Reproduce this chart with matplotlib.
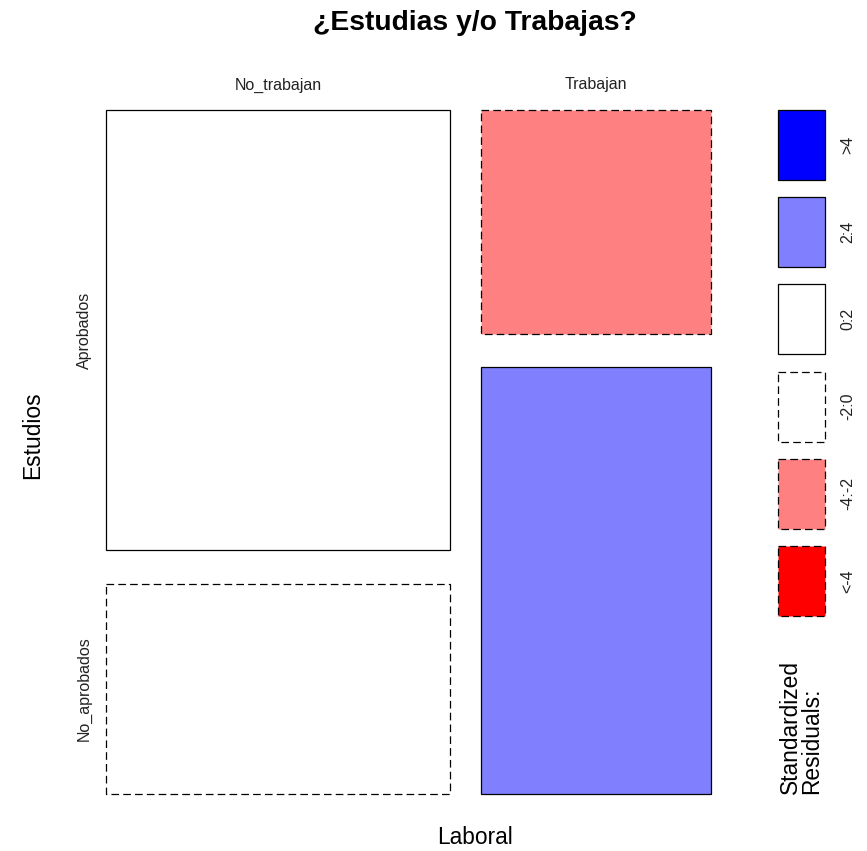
import numpy as np
import matplotlib.pyplot as plt
from matplotlib.patches import Rectangle

plt.rcParams['font.family'] = ['Liberation Sans', 'DejaVu Sans']
plt.rcParams['lines.scale_dashes'] = False

# tabla de contingencia Laboral x Estudios
laboral = ['No_trabajan', 'Trabajan']
estudios = ['Aprobados', 'No_aprobados']
conteos = np.array([[65, 31],    # No_trabajan
                    [22, 42]])   # Trabajan

# residuos estandarizados (Pearson) para el sombreado
n = conteos.sum()
esperados = np.outer(conteos.sum(axis=1), conteos.sum(axis=0)) / n
residuos = (conteos - esperados) / np.sqrt(esperados)

cortes = [-4, -2, 0, 2, 4]
colores = ['#FF0000', '#FF8080', 'white', 'white', '#8080FF', '#0000FF']
etiquetas = ['<-4', '-4:-2', '-2:0', '0:2', '2:4', '>4']


def estilo(r):
    k = np.searchsorted(cortes, r)
    ls = (0, (5.5, 3)) if r < 0 else '-'
    return colores[k], ls


fig = plt.figure(figsize=(8.67, 8.51), dpi=100)
ax = fig.add_axes([0, 0, 1, 1])
ax.set_xlim(0, 867)
ax.set_ylim(851, 0)
ax.axis('off')

# zona del mosaico en pixeles
x0, x1, y0, y1 = 106, 711, 110, 794
gap_x, gap_y = 31, 33.5
ancho_total = x1 - x0 - gap_x * (len(laboral) - 1)
alto_total = y1 - y0 - gap_y * (len(estudios) - 1)

col_frac = conteos.sum(axis=1) / n
x = x0
for i, lab in enumerate(laboral):
    w = ancho_total * col_frac[i]
    ax.text(x + w / 2, 85, lab, ha='center', va='center', fontsize=11.5, color='#222222')
    fil_frac = conteos[i] / conteos[i].sum()
    y = y0
    for j, est in enumerate(estudios):
        h = alto_total * fil_frac[j]
        fc, ls = estilo(residuos[i, j])
        ax.add_patch(Rectangle((x, y), w, h, facecolor=fc, edgecolor='black',
                               linewidth=0.9, linestyle=ls))
        if i == 0:
            ax.text(84, y + h / 2, est, rotation=90, ha='center', va='center',
                    fontsize=11.5, color='#222222')
        y += h + gap_y
    x += w + gap_x

# leyenda de residuos
lx0, lx1 = 778, 825
ly, lh, lgap = 110, 70, 17.2
for k in range(len(etiquetas) - 1, -1, -1):
    ls = (0, (5.5, 3)) if k < 3 else '-'
    ax.add_patch(Rectangle((lx0, ly), lx1 - lx0, lh, facecolor=colores[k],
                           edgecolor='black', linewidth=0.9, linestyle=ls))
    ax.text(848, ly + lh / 2, etiquetas[k], rotation=90, ha='center', va='center',
            fontsize=11.5, color='#222222')
    ly += lh + lgap

ax.text(801, 727, 'Standardized\nResiduals:', rotation=90, ha='center', va='center',
        multialignment='left', fontsize=16.4, linespacing=0.9)

ax.text(475, 23, '¿Estudias y/o Trabajas?', ha='center', va='center',
        fontsize=20.3, fontweight='bold')
ax.text(475, 838, 'Laboral', ha='center', va='center', fontsize=16.4)
ax.text(33, 435, 'Estudios', rotation=90, ha='center', va='center', fontsize=16.4)

fig.savefig('out.png', dpi=100)
